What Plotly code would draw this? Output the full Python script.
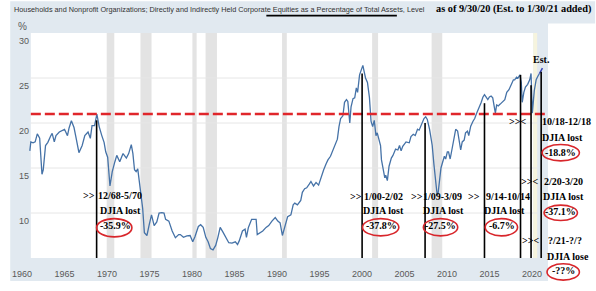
import plotly.graph_objects as go

# ---------------- data ----------------
years = [1960.92, 1961.04, 1961.3, 1961.55, 1961.8, 1962.08, 1962.35, 1962.5, 1962.77, 1963.04,
         1963.4, 1963.55, 1963.8, 1964.0, 1964.39, 1964.77, 1965.0, 1965.35, 1965.54, 1965.81,
         1966.12, 1966.31, 1966.7, 1967.08, 1967.39, 1967.77, 1968.04, 1968.24, 1968.54, 1968.81,
         1969.08, 1969.39, 1969.66, 1969.85, 1970.08, 1970.35, 1970.62, 1970.93, 1971.15, 1971.5,
         1971.89, 1972.28, 1972.55, 1972.86, 1973.05, 1973.24, 1973.43, 1973.62, 1973.93, 1974.2,
         1974.4, 1974.7, 1974.97, 1975.24, 1975.55, 1975.86, 1976.13, 1976.45, 1976.71, 1976.9,
         1977.28, 1977.67, 1978.05, 1978.44, 1978.63, 1979.0, 1979.4, 1979.78, 1980.09, 1980.36,
         1980.75, 1981.02, 1981.32, 1981.63, 1981.9, 1982.17, 1982.48, 1982.79, 1983.05, 1983.32,
         1983.63, 1984.02, 1984.33, 1984.71, 1985.1, 1985.36, 1985.56, 1985.94, 1986.25, 1986.41,
         1986.64, 1987.02, 1987.41, 1987.55, 1987.68, 1987.95, 1988.33, 1988.72, 1989.03, 1989.41,
         1989.8, 1990.1, 1990.37, 1990.64, 1990.95, 1991.26, 1991.64, 1991.91, 1992.1, 1992.41,
         1992.8, 1992.99, 1993.26, 1993.5, 1993.8, 1994.0, 1994.3, 1994.6, 1994.9, 1995.2,
         1995.5, 1995.8, 1996.0, 1996.3, 1996.5, 1996.8, 1997.11, 1997.3, 1997.49, 1997.76,
         1997.95, 1998.18, 1998.34, 1998.57, 1998.72, 1998.95, 1999.15, 1999.34, 1999.49, 1999.72,
         1999.92, 2000.11, 2000.26, 2000.42, 2000.65, 2000.88, 2001.07, 2001.26, 2001.45, 2001.65,
         2001.8, 2002.03, 2002.19, 2002.3, 2002.5, 2002.69, 2002.8, 2002.99, 2003.19, 2003.46,
         2003.65, 2003.96, 2004.23, 2004.42, 2004.61, 2004.8, 2005.19, 2005.57, 2005.77, 2006.04,
         2006.27, 2006.54, 2006.73, 2007.04, 2007.3, 2007.5, 2007.69, 2007.96, 2008.1, 2008.27,
         2008.46, 2008.65, 2008.85, 2008.96, 2009.11, 2009.3, 2009.45, 2009.7, 2009.85, 2010.05,
         2010.19, 2010.38, 2010.58, 2010.88, 2011.03, 2011.26, 2011.42, 2011.62, 2011.8, 2012.03,
         2012.19, 2012.42, 2012.57, 2012.8, 2013.07, 2013.27, 2013.46, 2013.65, 2013.84, 2014.04,
         2014.23, 2014.42, 2014.6, 2014.81, 2015.0, 2015.2, 2015.39, 2015.58, 2015.7, 2015.85,
         2016.04, 2016.27, 2016.54, 2016.81, 2017.04, 2017.3, 2017.59, 2017.82, 2017.97, 2018.2,
         2018.36, 2018.59, 2018.75, 2018.86, 2019.05, 2019.24, 2019.5, 2019.74, 2019.9, 2020.05,
         2020.28, 2020.5, 2020.7, 2020.89]
values = [16.9, 17.9, 17.8, 17.9, 18.8, 18.3, 14.3, 14.8, 17.5, 17.85,
          18.6, 18.85, 17.9, 18.6, 19.0, 19.2, 19.3, 18.6, 19.45, 20.25,
          19.5, 18.6, 16.7, 17.5, 18.6, 19.0, 18.3, 19.7, 19.7, 21.0,
          19.6, 18.6, 17.85, 16.8, 16.2, 13.0, 14.6, 15.7, 16.4, 15.7,
          16.6, 16.1, 16.6, 17.6, 16.6, 14.8, 14.6, 14.9, 12.5, 10.5,
          7.8, 7.5, 8.7, 9.8, 8.6, 9.0, 10.0, 10.05, 10.0, 9.3,
          9.1, 8.0, 7.25, 7.6, 7.6, 7.3, 7.45, 7.5, 6.8, 7.4,
          8.5, 8.7, 8.4, 7.3, 6.8, 6.05, 5.9, 6.4, 7.3, 8.4,
          7.9, 7.2, 6.7, 6.65, 6.8, 6.5, 6.9, 8.0, 8.2, 7.3,
          8.4, 9.3, 9.3, 9.3, 7.6, 7.8, 8.0, 8.4, 8.6, 9.1,
          9.5, 9.1, 8.9, 7.5, 8.7, 9.6, 9.8, 10.9, 11.1, 10.9,
          11.4, 12.3, 12.7, 12.8, 13.2, 13.5, 13.0, 13.4, 13.1, 14.0,
          14.8, 15.5, 15.9, 16.3, 16.8, 17.6, 18.2, 19.6, 20.5, 20.8,
          22.3, 22.6, 22.4, 20.0, 21.8, 22.7, 22.8, 23.9, 23.4, 25.35,
          25.9, 26.4, 25.7, 25.0, 24.5, 22.85, 20.2, 19.6, 20.3, 18.6,
          18.9, 18.0, 17.5, 15.9, 14.6, 13.9, 14.2, 13.6, 15.2, 16.1,
          16.4, 17.1, 17.0, 17.5, 16.9, 17.4, 17.9, 17.8, 18.5, 18.75,
          18.6, 19.3, 19.2, 20.0, 20.5, 20.7, 20.4, 19.3, 18.3, 17.5,
          15.5, 13.5, 12.0, 12.2, 13.6, 15.0, 15.5, 16.3, 16.0, 16.8,
          16.8, 16.0, 17.0, 18.56, 19.3, 19.1, 18.3, 17.0, 17.9, 18.1,
          18.9, 19.1, 18.6, 19.64, 20.2, 20.5, 21.0, 21.4, 21.96, 22.3,
          22.86, 23.15, 22.9, 22.6, 22.9, 23.0, 22.8, 21.8, 21.1, 22.0,
          21.9, 22.1, 22.3, 22.6, 23.4, 23.7, 24.3, 24.8, 24.8, 25.1,
          25.0, 25.35, 24.5, 22.3, 23.4, 24.0, 24.3, 24.8, 25.5, 21.1,
          23.6, 24.8, 25.2, 25.5]

est_year, est_value = 2021.24, 26.1
ref_level = 21.0

rec_start = [1969.97, 1973.94, 1980.05, 1981.6, 1990.6, 2001.2, 2008.2]
rec_end = [1970.86, 1975.24, 1980.55, 1982.94, 1991.16, 2001.9, 2009.45]
est_band = [2020.16, 2020.62]

peak_years = [1968.78, 2000.02, 2007.43, 2014.42, 2018.66, 2019.9, 2021.09]
peak_tops = [20.3, 25.5, 20.0, 22.2, 25.35, 24.2, 25.7]

x_ticks = [1960, 1965, 1970, 1975, 1980, 1985, 1990, 1995, 2000, 2005, 2010, 2015, 2020]
y_ticks = [10, 15, 20, 25, 30]

title_left = ("Households and Nonprofit Organizations; Directly and Indirectly Held Corporate "
              "Equities as a Percentage of Total Assets, Level")
title_right = "as of 9/30/20 (Est. to 1/30/21 added)"

# annotation groups: (arrow text, arrow x, period text, period x, y1, lost text, lost x, y2, pct, pct x, y3, ellipse)
groups = [
    (">>", 80, "12/68-5/70", 112, 202, "DJIA lost", 112, 218, "-35.9%", 107, 233, (88, 124, 226, 245)),
    (">>", 352, "1/00-2/02", 380, 203, "DJIA lost", 380, 218, "-37.8%", 378, 233, (359, 396, 226, 244)),
    (">>", 415, "1/09-3/09", 441, 203, "DJIA lost", 442, 218, "-27.5%", 438, 233, (421, 456, 226, 244)),
    (">>", 473, "9/14-10/14", 507, 203, "DJIA lost", 504, 218, "-6.7%", 501, 233, (484, 517, 226, 244)),
    (">><", 517, "10/18-12/18", 567, 125, "DJIA lost", 563, 142, "-18.8%", 561, 157, (542, 580, 149, 166)),
    (">><", 529, "2/20-3/20", 564, 187, "DJIA lost", 564, 203, "-37.1%", 561, 219, (544, 578, 212, 228)),
    (">><", 530, "?/21-?/?", 565, 249, "DJIA lose", 568, 265, "-??%", 564, 280, (547, 580, 273, 290)),
]

# ---------------- layout geometry ----------------
W, H = 596, 291
ML, MR, MT, MB = 12, 48, 33, 24
PW, PH = W - ML - MR, H - MT - MB
XPX = 8.66
x_range = [1960.0, 1960.0 + PW / XPX]
y_range = [5, 30]
plot_left = 1960.0 + (21 - 12) / XPX


def px(x):
    return (x - ML) / PW


def py(y):
    return 1 - (y - MT) / PH


SANS = "Liberation Sans, Arial, sans-serif"
SERIF = "Liberation Serif, Times New Roman, serif"
BG = "#e1e9f0"

fig = go.Figure()

# main series
fig.add_trace(go.Scatter(x=years, y=values, mode="lines",
                         line=dict(color="#4572a7", width=1.3), hoverinfo="skip"))
# estimate extension
fig.add_trace(go.Scatter(x=[years[-1], est_year], y=[values[-1], est_value], mode="lines",
                         line=dict(color="#2f3fb5", width=1.5), hoverinfo="skip"))
# red dashed reference level
fig.add_trace(go.Scatter(x=[plot_left, x_range[1]], y=[ref_level, ref_level], mode="lines",
                         line=dict(color="#e0262b", width=2.5, dash="10px,4px"), hoverinfo="skip"))
# black vertical peak lines
vx, vy = [], []
for yr, top in zip(peak_years, peak_tops):
    vx += [yr, yr, None]
    vy += [top, y_range[0], None]
fig.add_trace(go.Scatter(x=vx, y=vy, mode="lines", line=dict(color="black", width=1.6),
                         hoverinfo="skip"))

shapes = []
# background panels
shapes.append(dict(type="rect", xref="paper", yref="paper", x0=px(0), x1=px(548), y0=py(H), y1=py(0),
                   fillcolor=BG, line=dict(width=0), layer="below"))
shapes.append(dict(type="rect", xref="paper", yref="paper", x0=px(548), x1=px(W), y0=py(23), y1=py(0),
                   fillcolor=BG, line=dict(width=0), layer="below"))
# white plotting area
shapes.append(dict(type="rect", xref="x", yref="y", x0=plot_left, x1=est_band[0], y0=y_range[0], y1=y_range[1],
                   fillcolor="white", line=dict(width=0), layer="below"))
shapes.append(dict(type="rect", xref="x", yref="y", x0=est_band[0], x1=est_band[1], y0=y_range[0], y1=y_range[1],
                   fillcolor="#f6f4de", line=dict(width=0), layer="below"))
for a, b in zip(rec_start, rec_end):
    shapes.append(dict(type="rect", xref="x", yref="y", x0=a, x1=b, y0=y_range[0], y1=y_range[1],
                       fillcolor="#e3e3e3", line=dict(width=0), layer="below"))
for g in y_ticks[:-1]:
    shapes.append(dict(type="line", xref="x", yref="y", x0=plot_left, x1=est_band[1], y0=g, y1=g,
                       line=dict(color="#e6e6e6", width=1), layer="below"))
# title underline (under "Equities ... Assets,")
shapes.append(dict(type="line", xref="paper", yref="paper", x0=px(261), x1=px(394), y0=py(15), y1=py(15),
                   line=dict(color="black", width=1.8)))
# red ellipses
for g in groups:
    x0, x1, y0, y1 = g[11]
    shapes.append(dict(type="circle", xref="paper", yref="paper", x0=px(x0), x1=px(x1), y0=py(y1), y1=py(y0),
                       line=dict(color="#d8262b", width=1.6)))

ann = []


def txt(t, x, y, size=10, font=SERIF, color="black", anchor="center", bold=True):
    ann.append(dict(text=("<b>%s</b>" % t) if bold else t, x=px(x), y=py(y), xref="paper", yref="paper",
                    xanchor=anchor, yanchor="middle", showarrow=False,
                    font=dict(family=font, size=size, color=color)))


txt(title_left, 2, 8.5, size=7.3, font=SANS, color="#333333", anchor="left", bold=False)
txt(title_right, 594, 8.5, size=10.3, anchor="right")
txt("%", 12, 26, size=10, font=SANS, color="#595959", bold=False)
txt("Est.", 541, 61, size=10)
for g in groups:
    txt(g[0], g[1], g[4])
    txt(g[2], g[3], g[4])
    txt(g[5], g[6], g[7])
    txt(g[8], g[9], g[10])

fig.update_layout(
    width=W, height=H, margin=dict(l=ML, r=MR, t=MT, b=MB),
    paper_bgcolor="white", plot_bgcolor="rgba(0,0,0,0)",
    showlegend=False, shapes=shapes, annotations=ann,
    xaxis=dict(range=x_range, showgrid=False, zeroline=False, showline=False,
               ticks="outside", ticklen=7, tickcolor="rgba(0,0,0,0)",
               tickvals=x_ticks, ticktext=[str(v) for v in x_ticks],
               tickfont=dict(family=SANS, size=9, color="#595959")),
    yaxis=dict(range=y_range, showgrid=False, zeroline=False, showline=False, ticks="",
               tickvals=y_ticks, ticktext=[str(v) for v in y_ticks],
               tickfont=dict(family=SANS, size=9, color="#595959"),
               ticklabelstandoff=-8, ticklabelshift=8),
)

fig.write_html("out.html")
